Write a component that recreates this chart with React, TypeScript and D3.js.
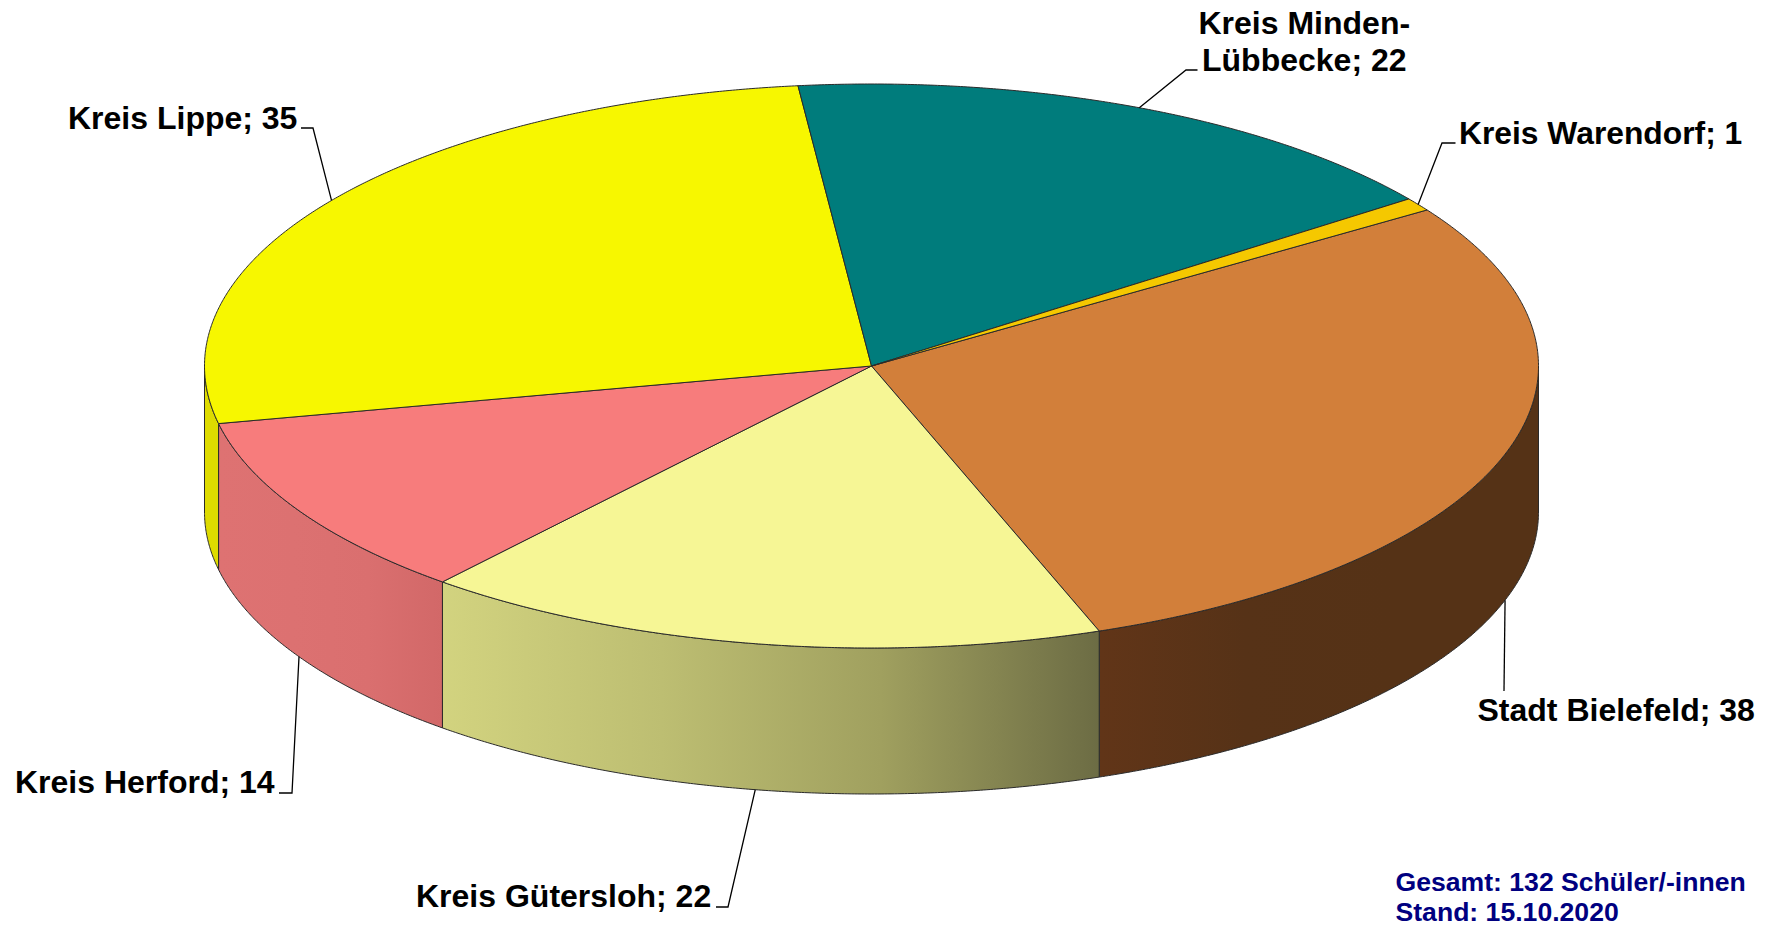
import React from "react";
import * as d3 from "d3";

const categories = ["Stadt Bielefeld", "Kreis Gütersloh", "Kreis Herford", "Kreis Lippe", "Kreis Minden-Lübbecke", "Kreis Warendorf"];
const values = [38, 22, 14, 35, 22, 1];
const topColors = ["#D27F3A", "#F6F695", "#F77C7C", "#F7F700", "#007C7C", "#F5C800"];
const sideStops = [
  ["#613518", "#563217", "#553216", "#553216"],
  ["#D2D37F", "#BDBE72", "#A0A05F", "#6C6C44"],
  ["#DE7272", "#DC7171", "#DA6F6F", "#D26868"],
  ["#DEDB00", "#DEDB00", "#DEDB00", "#DEDB00"],
];
const startDegrees = 56.4;
const noteLines = ["Gesamt: 132 Schüler/-innen", "Stand: 15.10.2020"];

const W = 1772, H = 926;
const cx = 871.5, cy = 366, rx = 667, ry = 282, depth = 146;
const x = d3.scaleLinear().domain([-1, 1]).range([cx - rx, cx + rx]);
const y = d3.scaleLinear().domain([-1, 1]).range([cy - ry, cy + ry]);
const lineGen = d3.line<[number, number]>();
const px = (a: number) => x(Math.sin(a));
const py = (a: number, d = 0) => y(-Math.cos(a)) + d;
const arcPts = (a0: number, a1: number, d = 0): [number, number][] => {
  const n = Math.max(2, Math.ceil(Math.abs(a1 - a0) / 0.005));
  return d3.range(n + 1).map((i) => {
    const a = a0 + ((a1 - a0) * i) / n;
    return [px(a), py(a, d)] as [number, number];
  });
};

const arcs = d3
  .pie<number>()
  .sort(null)
  .startAngle((startDegrees * Math.PI) / 180)
  .endAngle((startDegrees * Math.PI) / 180 + 2 * Math.PI)(values);

const topPath = (a0: number, a1: number) =>
  lineGen([[cx, cy], ...arcPts(a0, a1)])! + "Z";
const sidePath = (a0: number, a1: number) =>
  lineGen([...arcPts(a0, a1), ...arcPts(a1, a0, depth)])! + "Z";

const lo = Math.PI / 2, hi = (3 * Math.PI) / 2;
const sides = arcs
  .map((s, i) => ({ i, a0: Math.max(s.startAngle, lo), a1: Math.min(s.endAngle, hi) }))
  .filter((s) => s.a1 > s.a0);

type Lab = { lines: string[]; tx: number[]; base: number[]; size: number; elbow: [number, number]; end: [number, number]; bottom: boolean };
const labels: Lab[] = [
  { lines: ["Stadt Bielefeld; 38"], tx: [1477.5], base: [721], size: 32, elbow: [1504, 691], end: [1504, 691], bottom: true },
  { lines: ["Kreis Gütersloh; 22"], tx: [416], base: [907], size: 32, elbow: [728, 907], end: [716, 907], bottom: true },
  { lines: ["Kreis Herford; 14"], tx: [15], base: [793], size: 32, elbow: [292, 793], end: [279, 793], bottom: true },
  { lines: ["Kreis Lippe; 35"], tx: [68], base: [129], size: 32, elbow: [313, 128], end: [301, 128], bottom: false },
  { lines: ["Kreis Minden-", "Lübbecke; 22"], tx: [1198.5, 1202], base: [34, 71], size: 32, elbow: [1186, 70], end: [1197.5, 70], bottom: false },
  { lines: ["Kreis Warendorf; 1"], tx: [1459], base: [144], size: 31.8, elbow: [1442, 143], end: [1455.5, 143], bottom: false },
];

const font = "'Liberation Sans', Arial, sans-serif";
const edge = "#2a2a2a";
const noteBase = [891, 920.5];

export default function App() {
  return (
    <svg width={W} height={H} viewBox={`0 0 ${W} ${H}`} style={{ position: "absolute", left: 0, top: 0, display: "block", background: "#fff" }}>
      <defs>
        {sides.map((s) => {
          const [xa, xb] = d3.extent([px(s.a0), px(s.a1)]) as [number, number];
          return (
            <linearGradient key={s.i} id={`side${s.i}`} gradientUnits="userSpaceOnUse" x1={xa} x2={xb} y1={0} y2={0}>
              {sideStops[s.i].map((c, k, list) => (
                <stop key={k} offset={k / (list.length - 1)} stopColor={c} />
              ))}
            </linearGradient>
          );
        })}
      </defs>
      {sides.map((s) => (
        <path key={s.i} d={sidePath(s.a0, s.a1)} fill={`url(#side${s.i})`} stroke={edge} strokeWidth={1} strokeLinejoin="round" />
      ))}
      {arcs.map((s, i) => (
        <path key={categories[i]} d={topPath(s.startAngle, s.endAngle)} fill={topColors[i]} stroke={edge} strokeWidth={1} strokeLinejoin="round" />
      ))}
      {labels.map((l, i) => {
        const mid = (arcs[i].startAngle + arcs[i].endAngle) / 2;
        const anchor: [number, number] = [px(mid), py(mid, l.bottom ? depth : 0)];
        return (
          <g key={i}>
            <path d={lineGen([anchor, l.elbow, l.end])!} fill="none" stroke="#000" strokeWidth={1.3} />
            {l.lines.map((t, k) => (
              <text key={k} x={l.tx[k]} y={l.base[k]} fontFamily={font} fontWeight={700} fontSize={l.size} fill="#000">
                {t}
              </text>
            ))}
          </g>
        );
      })}
      {noteLines.map((t, k) => (
        <text key={t} x={1395.5} y={noteBase[k]} fontFamily={font} fontWeight={700} fontSize={26.6} fill="#000080">
          {t}
        </text>
      ))}
    </svg>
  );
}
